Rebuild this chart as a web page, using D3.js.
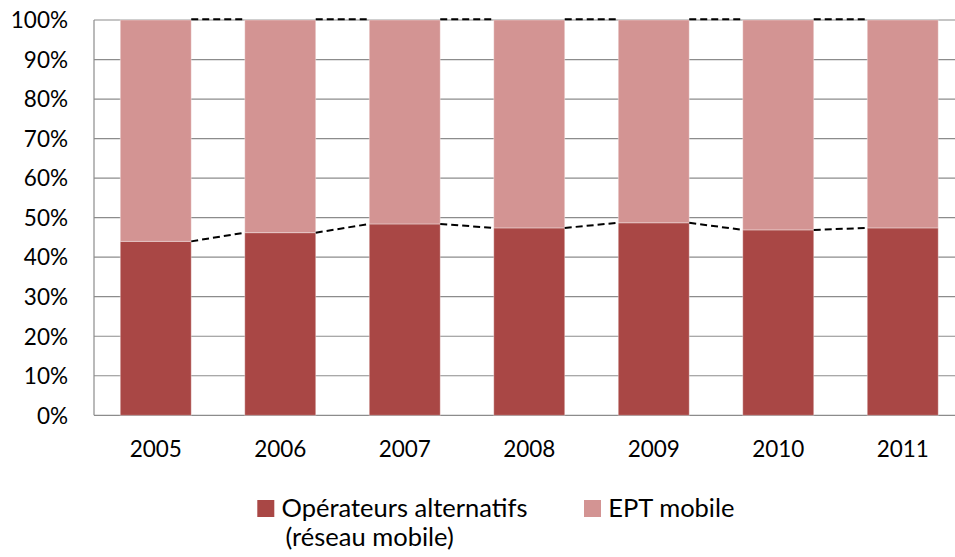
<!DOCTYPE html>
<html><head><meta charset="utf-8">
<script src="https://cdn.jsdelivr.net/npm/d3@7"></script>
<style>body{margin:0;background:#fff}svg{display:block;font-family:Lato,"Open Sans",sans-serif}</style>
</head><body><svg id="c" width="955" height="557"></svg>
<script>
const years = ["2005","2006","2007","2008","2009","2010","2011"];
const alternatifs = [44.0, 46.2, 48.4, 47.4, 48.7, 46.9, 47.4];
const eptMobile = [56.0, 53.8, 51.6, 52.6, 51.3, 53.1, 52.6];
const yTicks = [0,10,20,30,40,50,60,70,80,90,100];
const seriesNames = ["Opérateurs alternatifs", "EPT mobile"];
const colors = ["#A94745", "#D39493"];

const svg = d3.select("#c");
const x = d3.scaleBand().domain(years).range([93.5, 965]).paddingInner(0.43).paddingOuter(0.215);
const y = d3.scaleLinear().domain([0,100]).range([415.3, 20]);

// gridlines
svg.append("g").selectAll("line").data(yTicks).join("line")
  .attr("x1", 94).attr("x2", 965).attr("y1", d=>y(d)).attr("y2", d=>y(d))
  .attr("stroke", "#8c8c8c").attr("stroke-width", 1.2);
// left axis line
svg.append("line").attr("x1",94).attr("x2",94).attr("y1",y(100)).attr("y2",y(0))
  .attr("stroke","#8c8c8c").attr("stroke-width",1.2);

// y labels
svg.append("g").selectAll("text").data(yTicks).join("text")
  .attr("x", 68).attr("y", d=>y(d)+8.3).attr("text-anchor","end")
  .attr("font-size", 22.5).attr("fill","#000").text(d=>d+"%");

// bars
const rows = years.map((yr,i)=>({yr, a: alternatifs[i], e: eptMobile[i]}));
const g = svg.append("g");
g.selectAll("rect.a").data(rows).join("rect").attr("class","a")
  .attr("x", d=>x(d.yr)).attr("width", x.bandwidth())
  .attr("y", d=>y(d.a)).attr("height", d=>y(0)-y(d.a))
  .attr("fill", colors[0]).attr("stroke","#fff").attr("stroke-opacity",0.35).attr("stroke-width",1);
g.selectAll("rect.e").data(rows).join("rect").attr("class","e")
  .attr("x", d=>x(d.yr)).attr("width", x.bandwidth())
  .attr("y", d=>y(d.a+d.e)).attr("height", d=>y(d.a)-y(d.a+d.e))
  .attr("fill", colors[1]).attr("stroke","#fff").attr("stroke-opacity",0.35).attr("stroke-width",1);

// series lines
const pairs = rows.slice(0,-1).map((d,i)=>[d, rows[i+1]]);
const sl = svg.append("g").attr("stroke","#000").attr("stroke-width",2).attr("stroke-dasharray","7,4");
sl.selectAll("line.a").data(pairs).join("line").attr("class","a")
  .attr("x1", p=>x(p[0].yr)+x.bandwidth()).attr("x2", p=>x(p[1].yr))
  .attr("y1", p=>y(p[0].a)).attr("y2", p=>y(p[1].a));
sl.selectAll("line.e").data(pairs).join("line").attr("class","e")
  .attr("x1", p=>x(p[0].yr)+x.bandwidth()).attr("x2", p=>x(p[1].yr))
  .attr("y1", p=>y(p[0].a+p[0].e)-0.8).attr("y2", p=>y(p[1].a+p[1].e)-0.8);

// x labels
svg.append("g").selectAll("text").data(years).join("text")
  .attr("x", d=>x(d)+x.bandwidth()/2).attr("y", 456.7).attr("text-anchor","middle")
  .attr("font-size", 22.5).attr("fill","#000").text(d=>d);

// legend
const leg = svg.append("g");
leg.append("rect").attr("x",257.3).attr("y",500).attr("width",17).attr("height",17).attr("fill",colors[0]);
leg.append("text").attr("x",281.5).attr("y",516.7).attr("font-size",25.5).text(seriesNames[0]);
leg.append("text").attr("x",285.5).attr("y",546).attr("font-size",25.5).text("(réseau mobile)");
leg.append("rect").attr("x",584).attr("y",500).attr("width",17).attr("height",17).attr("fill",colors[1]);
leg.append("text").attr("x",608.3).attr("y",516.7).attr("font-size",25.5).text(seriesNames[1]);
</script></body></html>
